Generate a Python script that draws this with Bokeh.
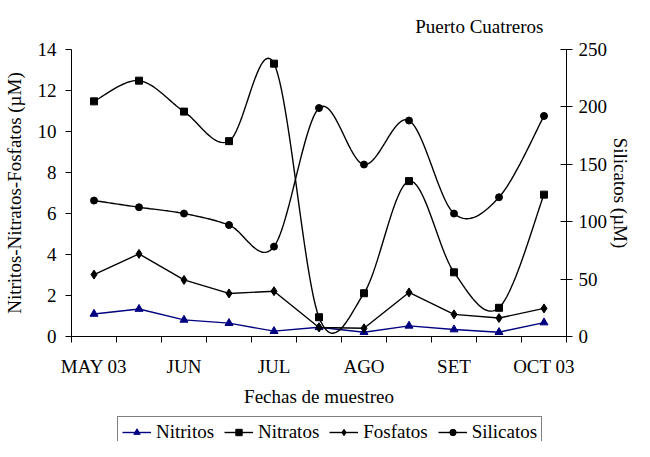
from bokeh.plotting import figure
from bokeh.models import (Range1d, LinearAxis, FixedTicker, Legend, LegendItem)
from bokeh.layouts import column
from bokeh.embed import file_html
from bokeh.resources import INLINE

# ---- data ----
fechas = ["MAY 03", "", "JUN", "", "JUL", "", "AGO", "", "SET", "", "OCT 03"]
nitritos = [1.10, 1.34, 0.81, 0.65, 0.26, 0.45, 0.21, 0.52, 0.34, 0.21, 0.68]
nitratos = [11.47, 12.48, 10.97, 9.53, 13.31, 0.94, 2.11, 7.58, 3.13, 1.40, 6.92]
fosfatos = [3.02, 4.03, 2.76, 2.10, 2.21, 0.44, 0.40, 2.15, 1.08, 0.90, 1.37]
silicatos = [118.4, 112.6, 107.1, 97.1, 78.3, 199.0, 149.8, 188.1, 107.1, 121.3, 192.1]
series_names = ["Nitritos", "Nitratos", "Fosfatos", "Silicatos"]

FONT = "Liberation Serif"
FS = "19px"
n = len(fechas)
xs = [i + 0.5 for i in range(n)]


def smooth(xv, yv, steps=24):
    """Catmull-Rom style smoothing (like a spreadsheet 'smoothed line')."""
    ox, oy = [], []
    m = len(xv)
    for i in range(m - 1):
        p0 = (xv[i - 1], yv[i - 1]) if i > 0 else (xv[i], yv[i])
        p1 = (xv[i], yv[i])
        p2 = (xv[i + 1], yv[i + 1])
        p3 = (xv[i + 2], yv[i + 2]) if i + 2 < m else (xv[i + 1], yv[i + 1])
        c1 = (p1[0] + (p2[0] - p0[0]) / 6, p1[1] + (p2[1] - p0[1]) / 6)
        c2 = (p2[0] - (p3[0] - p1[0]) / 6, p2[1] - (p3[1] - p1[1]) / 6)
        for k in range(steps + (1 if i == m - 2 else 0)):
            t = k / steps
            a = (1 - t) ** 3
            b = 3 * (1 - t) ** 2 * t
            c = 3 * (1 - t) * t ** 2
            d = t ** 3
            ox.append(a * p1[0] + b * c1[0] + c * c2[0] + d * p2[0])
            oy.append(a * p1[1] + b * c1[1] + c * c2[1] + d * p2[1])
    return ox, oy


p = figure(width=634, height=410, x_range=Range1d(0, n), y_range=Range1d(0, 14),
           output_backend="svg", toolbar_location=None,
           min_border_left=68, min_border_right=62, min_border_top=47, min_border_bottom=74)
p.outline_line_color = None
p.xgrid.grid_line_color = None
p.ygrid.grid_line_color = None
p.background_fill_color = "white"
p.border_fill_color = "white"

p.extra_y_ranges = {"sil": Range1d(0, 250)}

# title
p.title.text = "Puerto Cuatreros"
p.title.align = "right"
p.title.offset = 23
p.title.text_font = FONT
p.title.text_font_size = FS
p.title.text_font_style = "normal"
p.title.text_color = "black"
p.title.standoff = 26

# x axis
xa = p.xaxis[0]
xa.ticker = FixedTicker(ticks=[0.5, 2.5, 4.5, 6.5, 8.5, 10.5], minor_ticks=list(range(n + 1)))
xa.major_label_overrides = {xs[i]: fechas[i] for i in range(n) if fechas[i]}
xa.major_tick_out = 0
xa.major_tick_in = 0
xa.minor_tick_out = 6
xa.minor_tick_in = 0
xa.axis_label = "Fechas de muestreo"
xa.major_label_standoff = 13
xa.axis_label_standoff = 6

# left axis
ya = p.yaxis[0]
ya.ticker = FixedTicker(ticks=list(range(0, 15, 2)))
ya.major_tick_out = 6
ya.major_tick_in = 0
ya.major_label_standoff = 9
ya.axis_label = "Nitritos-Nitratos-Fosfatos (µM)"
ya.axis_label_standoff = 10

# right axis
ra = LinearAxis(y_range_name="sil", ticker=FixedTicker(ticks=list(range(0, 251, 50))))
ra.major_tick_out = 6
ra.major_tick_in = 6
ra.major_label_standoff = 6
ra.axis_label = "Silicatos (µM)"
ra.axis_label_standoff = 0
p.add_layout(ra, "right")

for ax in (xa, ya, ra):
    ax.major_label_text_font = FONT
    ax.major_label_text_font_size = FS
    ax.axis_label_text_font = FONT
    ax.axis_label_text_font_size = FS
    ax.axis_label_text_font_style = "normal"
    ax.axis_line_color = "black"
    ax.major_tick_line_color = "black"
    ax.minor_tick_line_color = "black" if ax is xa else None
    ax.major_label_text_color = "black"
    ax.axis_label_text_color = "black"

# series styles
LW = 1.4
NAVY = "#000080"
values = [nitritos, nitratos, fosfatos, silicatos]
styles = [
    dict(color=NAVY, marker="triangle", size=8, smooth=False, rng="default"),
    dict(color="black", marker="square", size=7, smooth=True, rng="default"),
    dict(color="black", marker="diamond", size=9, smooth=False, rng="default"),
    dict(color="black", marker="circle", size=7, smooth=True, rng="sil"),
]

for vals, st in zip(values, styles):
    lx, ly = smooth(xs, vals) if st["smooth"] else (xs, vals)
    p.line(lx, ly, line_color=st["color"], line_width=LW, y_range_name=st["rng"])
    p.scatter(xs, vals, marker=st["marker"], size=st["size"], fill_color=st["color"],
              line_color=st["color"], y_range_name=st["rng"])

# legend strip below the chart (its renderers lie outside its visible range;
# only the legend box is seen)
p2 = figure(width=634, height=31, x_range=Range1d(0, n), y_range=Range1d(-2, -1),
            x_axis_type=None, y_axis_type=None, output_backend="svg", toolbar_location=None,
            min_border=0)
p2.outline_line_color = None
p2.xgrid.grid_line_color = None
p2.ygrid.grid_line_color = None
items = []
for name, vals, st in zip(series_names, values, styles):
    lr = p2.line(xs, vals, line_color=st["color"], line_width=LW)
    mr = p2.scatter(xs, vals, marker=st["marker"], size=st["size"],
                    fill_color=st["color"], line_color=st["color"])
    items.append(LegendItem(label=name, renderers=[lr, mr]))

legend = Legend(items=items, orientation="horizontal", location=(46, -7))
legend.label_text_font = FONT
legend.label_text_font_size = FS
legend.label_text_color = "black"
legend.border_line_color = "black"
legend.border_line_width = 1
legend.glyph_width = 29
legend.glyph_height = 16
legend.label_standoff = 5
legend.spacing = 10
legend.padding = 4
legend.margin = 0
legend.background_fill_alpha = 1
p2.add_layout(legend, "center")

layout = column(p, p2, spacing=0)
open("out.html", "w").write(file_html(layout, INLINE))
